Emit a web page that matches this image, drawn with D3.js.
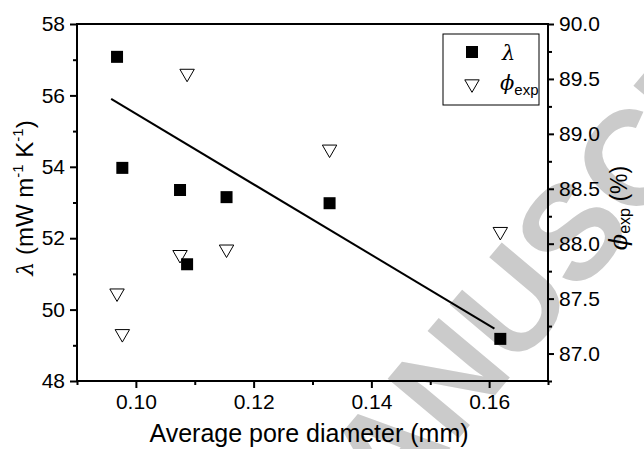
<!DOCTYPE html>
<html>
<head>
<meta charset="utf-8">
<script src="https://cdn.jsdelivr.net/npm/d3@7"></script>
<style>
  body { margin: 0; background: #fff; }
  svg { display: block; font-family: "Liberation Sans", Arial, sans-serif; }
</style>
</head>
<body>
<script>
// values
const diameter = [0.0968, 0.0977, 0.1075, 0.1087, 0.1154, 0.1329, 0.1619];
const lambdaVals = [57.08, 53.97, 53.35, 51.27, 53.15, 52.98, 49.18];
const phiVals = [87.55, 87.18, 87.90, 89.55, 87.95, 88.86, 88.11];
const fitX = [0.0958, 0.1609];
const fitY = [55.90, 49.47];
const xTicks = [0.10, 0.12, 0.14, 0.16];
const yLeftTicks = [48, 50, 52, 54, 56, 58];
const yRightTicks = [87.0, 87.5, 88.0, 88.5, 89.0, 89.5, 90.0];

const width = 644, height = 449;
const plotL = 77, plotR = 548, plotT = 24, plotB = 381;

const svg = d3.select("body").append("svg")
  .attr("width", width)
  .attr("height", height);

// watermark
svg.append("text")
  .attr("transform", "translate(318,606) rotate(-50)")
  .attr("font-size", 135)
  .attr("font-weight", "bold")
  .attr("fill", "#cbcbcb")
  .text("MANUSCRIPT");

const x = d3.scaleLinear().domain([0.09, 0.17]).range([plotL, plotR]);
const yL = d3.scaleLinear().domain([48, 58]).range([plotB, plotT]);
const yR = d3.scaleLinear().domain([86.75, 90]).range([plotB, plotT]);

// minor ticks
const minorX = d3.range(0.09, 0.1701, 0.01).filter(v => !xTicks.some(t => Math.abs(t - v) < 1e-6));
const minorL = d3.range(49, 58, 2);
const minorR = d3.range(86.75, 90.01, 0.25).filter(v => !yRightTicks.some(t => Math.abs(t - v) < 1e-6));

function styleAxis(g) {
  g.select(".domain").remove();
  g.selectAll("line").attr("stroke", "#000").attr("stroke-width", 2);
  g.selectAll("text").attr("font-size", 21).attr("fill", "#000");
}

svg.append("g").attr("transform", `translate(0,${plotB})`)
  .call(d3.axisBottom(x).tickValues(xTicks).tickFormat(d3.format(".2f")).tickSize(7).tickPadding(6))
  .call(styleAxis);
svg.append("g").attr("transform", `translate(0,${plotB})`)
  .call(d3.axisBottom(x).tickValues(minorX).tickFormat("").tickSize(4))
  .call(styleAxis);

svg.append("g").attr("transform", `translate(${plotL},0)`)
  .call(d3.axisLeft(yL).tickValues(yLeftTicks).tickSize(7).tickPadding(5))
  .call(styleAxis);
svg.append("g").attr("transform", `translate(${plotL},0)`)
  .call(d3.axisLeft(yL).tickValues(minorL).tickFormat("").tickSize(4))
  .call(styleAxis);

svg.append("g").attr("transform", `translate(${plotR},0)`)
  .call(d3.axisRight(yR).tickValues(yRightTicks).tickFormat(d3.format(".1f")).tickSize(6).tickPadding(5))
  .call(styleAxis);
svg.append("g").attr("transform", `translate(${plotR},0)`)
  .call(d3.axisRight(yR).tickValues(minorR).tickFormat("").tickSize(4))
  .call(styleAxis);

// frame
svg.append("rect")
  .attr("x", plotL).attr("y", plotT)
  .attr("width", plotR - plotL).attr("height", plotB - plotT)
  .attr("fill", "none").attr("stroke", "#000").attr("stroke-width", 2);

// fit line
svg.append("path")
  .datum(fitX.map((d, i) => [d, fitY[i]]))
  .attr("d", d3.line().x(d => x(d[0])).y(d => yL(d[1])))
  .attr("stroke", "#000").attr("stroke-width", 2).attr("fill", "none");

const tri = d3.symbol().type(d3.symbolTriangle).size(90);

// phi markers (down triangles)
svg.selectAll(".phi")
  .data(diameter)
  .enter().append("path")
  .attr("class", "phi")
  .attr("d", tri)
  .attr("transform", (d, i) => `translate(${x(d)},${yR(phiVals[i])}) rotate(180)`)
  .attr("fill", "#fff").attr("stroke", "#000").attr("stroke-width", 1);

// lambda markers (squares)
svg.selectAll(".lam")
  .data(diameter)
  .enter().append("rect")
  .attr("class", "lam")
  .attr("x", d => x(d) - 6)
  .attr("y", (d, i) => yL(lambdaVals[i]) - 6)
  .attr("width", 12).attr("height", 12)
  .attr("fill", "#000");

// axis titles
svg.append("text")
  .attr("x", 309).attr("y", 442)
  .attr("text-anchor", "middle").attr("font-size", 25)
  .text("Average pore diameter (mm)");

const lt = svg.append("text")
  .attr("transform", "translate(33,198) rotate(-90)")
  .attr("text-anchor", "middle").attr("font-size", 24);
lt.append("tspan").attr("font-style", "italic").attr("font-family", "DejaVu Serif").attr("font-size", 22).text("λ");
lt.append("tspan").text(" (mW m");
lt.append("tspan").attr("font-size", 15).attr("dy", -10).text("-1");
lt.append("tspan").attr("dy", 10).text(" K");
lt.append("tspan").attr("font-size", 15).attr("dy", -10).text("-1");
lt.append("tspan").attr("dy", 10).text(")");

const rt = svg.append("text")
  .attr("transform", "translate(627,208) rotate(-90)")
  .attr("text-anchor", "middle").attr("font-size", 23);
rt.append("tspan").attr("font-style", "italic").attr("font-family", "DejaVu Serif").attr("font-size", 24).text("ϕ");
rt.append("tspan").attr("font-size", 16).attr("dy", 3).text("exp");
rt.append("tspan").attr("dy", -3).text(" (%)");

// legend
const lg = svg.append("g");
lg.append("rect")
  .attr("x", 443).attr("y", 34).attr("width", 96).attr("height", 71)
  .attr("fill", "#fff").attr("stroke", "#000").attr("stroke-width", 1);
lg.append("rect")
  .attr("x", 466).attr("y", 46).attr("width", 12).attr("height", 12)
  .attr("fill", "#000");
lg.append("path")
  .attr("d", tri)
  .attr("transform", "translate(472,84) rotate(180)")
  .attr("fill", "#fff").attr("stroke", "#000");
lg.append("text")
  .attr("x", 502).attr("y", 60)
  .attr("font-size", 21).attr("font-style", "italic").attr("font-family", "DejaVu Serif")
  .text("λ");
const lp = lg.append("text").attr("x", 500).attr("y", 90).attr("font-size", 21);
lp.append("tspan").attr("font-style", "italic").attr("font-family", "DejaVu Serif").text("ϕ");
lp.append("tspan").attr("font-size", 15).attr("dy", 5).text("exp");
</script>
</body>
</html>
